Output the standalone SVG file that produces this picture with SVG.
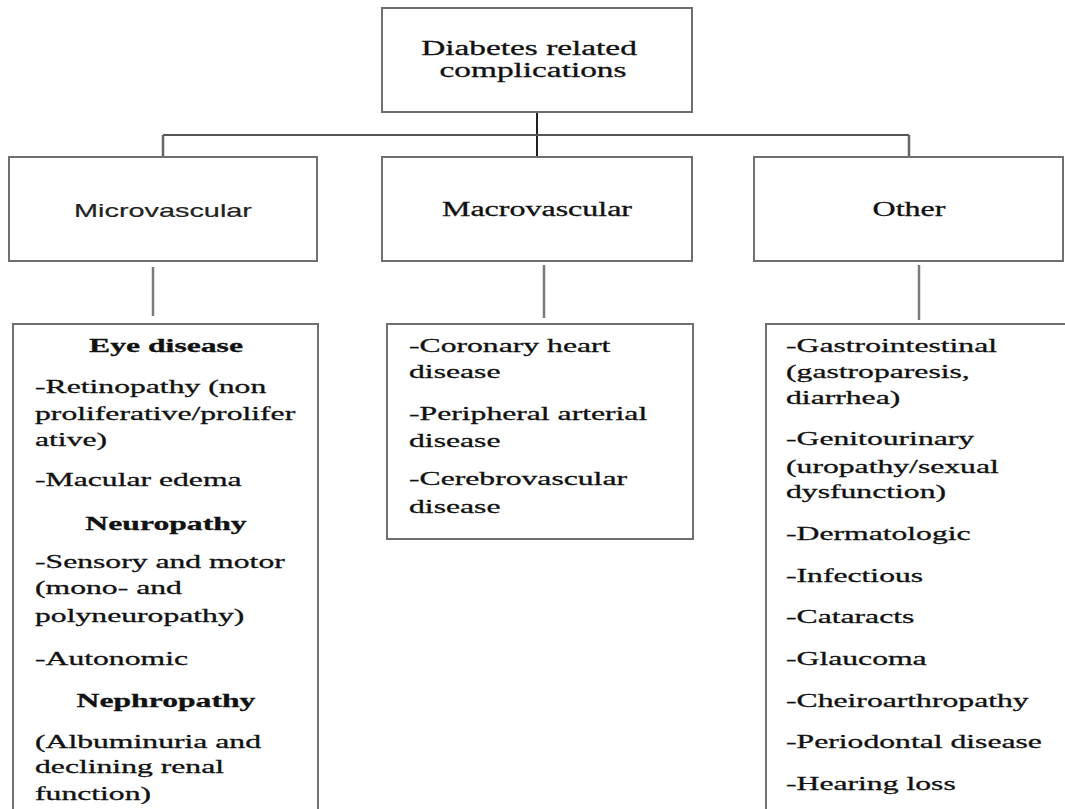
<svg xmlns="http://www.w3.org/2000/svg" width="1065" height="809" viewBox="0 0 1065 809">
<style>
.box{fill:#fff;stroke:#6f6f6f;stroke-width:2}
.con{stroke:#7a7a7a;stroke-width:2.5;fill:none}
.t{font-family:"Liberation Serif","Times New Roman",serif;font-size:19px;fill:#111;stroke:#111;stroke-width:0.3}
.h{font-family:"Liberation Serif","Times New Roman",serif;font-size:20px;fill:#111;stroke:#111;stroke-width:0.3;text-anchor:middle}
.b{font-weight:bold;text-anchor:middle}
.s{font-family:"Liberation Sans",Arial,sans-serif;font-size:19px;fill:#222;stroke:#222;stroke-width:0.2;text-anchor:middle}
</style>
<rect width="1065" height="809" fill="#fff"/>
<g id="connectors">
<line x1="537" y1="112" x2="537" y2="157" stroke="#222" stroke-width="2"/>
<line class="con" x1="163" y1="135" x2="909" y2="135" style="stroke:#555;stroke-width:2"/>
<line class="con" x1="163" y1="135" x2="163" y2="157" style="stroke:#666;stroke-width:2.5"/>
<line class="con" x1="909" y1="135" x2="909" y2="157" style="stroke:#666;stroke-width:2.5"/>
<line class="con" x1="153" y1="267" x2="153" y2="316"/>
<line class="con" x1="544" y1="265" x2="544" y2="318"/>
<line class="con" x1="919" y1="265" x2="919" y2="320"/>
</g>
<g id="root">
<rect class="box" x="382" y="8" width="310" height="104"/>
<text class="h" transform="translate(529,55) scale(1.667,1)">Diabetes related</text>
<text class="h" transform="translate(533,77) scale(1.667,1)">complications</text>
</g>
<g id="microvascular">
<rect class="box" x="9" y="157" width="308" height="104"/>
<text class="s" x="163" y="217" textLength="178" lengthAdjust="spacingAndGlyphs">Microvascular</text>
</g>
<g id="macrovascular">
<rect class="box" x="382" y="157" width="310" height="104"/>
<text class="h" transform="translate(537,216) scale(1.6,1)">Macrovascular</text>
</g>
<g id="other">
<rect class="box" x="754" y="157" width="309" height="104"/>
<text class="h" transform="translate(909,216) scale(1.6,1)">Other</text>
</g>
<g id="micro-list">
<rect class="box" x="13" y="324" width="305" height="500"/>
<text class="t b" transform="translate(166,352) scale(1.667,1)">Eye disease</text>
<text class="t" transform="translate(35,393) scale(1.667,1)">-Retinopathy (non</text>
<text class="t" transform="translate(35,420) scale(1.667,1)">proliferative/prolifer</text>
<text class="t" transform="translate(35,446) scale(1.667,1)">ative)</text>
<text class="t" transform="translate(35,486) scale(1.667,1)">-Macular edema</text>
<text class="t b" transform="translate(166,530) scale(1.667,1)">Neuropathy</text>
<text class="t" transform="translate(35,568) scale(1.667,1)">-Sensory and motor</text>
<text class="t" transform="translate(35,594) scale(1.667,1)">(mono- and</text>
<text class="t" transform="translate(35,622) scale(1.667,1)">polyneuropathy)</text>
<text class="t" transform="translate(35,665) scale(1.667,1)">-Autonomic</text>
<text class="t b" transform="translate(166,707) scale(1.667,1)">Nephropathy</text>
<text class="t" transform="translate(35,748) scale(1.667,1)">(Albuminuria and</text>
<text class="t" transform="translate(35,773) scale(1.667,1)">declining renal</text>
<text class="t" transform="translate(35,800) scale(1.667,1)">function)</text>
</g>
<g id="macro-list">
<rect class="box" x="387" y="324" width="306" height="215"/>
<text class="t" transform="translate(409,352) scale(1.667,1)">-Coronary heart</text>
<text class="t" transform="translate(409,378) scale(1.667,1)">disease</text>
<text class="t" transform="translate(409,420) scale(1.667,1)">-Peripheral arterial</text>
<text class="t" transform="translate(409,447) scale(1.667,1)">disease</text>
<text class="t" transform="translate(409,485) scale(1.667,1)">-Cerebrovascular</text>
<text class="t" transform="translate(409,513) scale(1.667,1)">disease</text>
</g>
<g id="other-list">
<rect class="box" x="766" y="324" width="320" height="500"/>
<text class="t" transform="translate(786,352) scale(1.667,1)">-Gastrointestinal</text>
<text class="t" transform="translate(786,378) scale(1.667,1)">(gastroparesis,</text>
<text class="t" transform="translate(786,404) scale(1.667,1)">diarrhea)</text>
<text class="t" transform="translate(786,445) scale(1.667,1)">-Genitourinary</text>
<text class="t" transform="translate(786,473) scale(1.667,1)">(uropathy/sexual</text>
<text class="t" transform="translate(786,498) scale(1.667,1)">dysfunction)</text>
<text class="t" transform="translate(786,540) scale(1.667,1)">-Dermatologic</text>
<text class="t" transform="translate(786,582) scale(1.667,1)">-Infectious</text>
<text class="t" transform="translate(786,623) scale(1.667,1)">-Cataracts</text>
<text class="t" transform="translate(786,665) scale(1.667,1)">-Glaucoma</text>
<text class="t" transform="translate(786,707) scale(1.667,1)">-Cheiroarthropathy</text>
<text class="t" transform="translate(786,748) scale(1.667,1)">-Periodontal disease</text>
<text class="t" transform="translate(786,790) scale(1.667,1)">-Hearing loss</text>
</g>
</svg>
